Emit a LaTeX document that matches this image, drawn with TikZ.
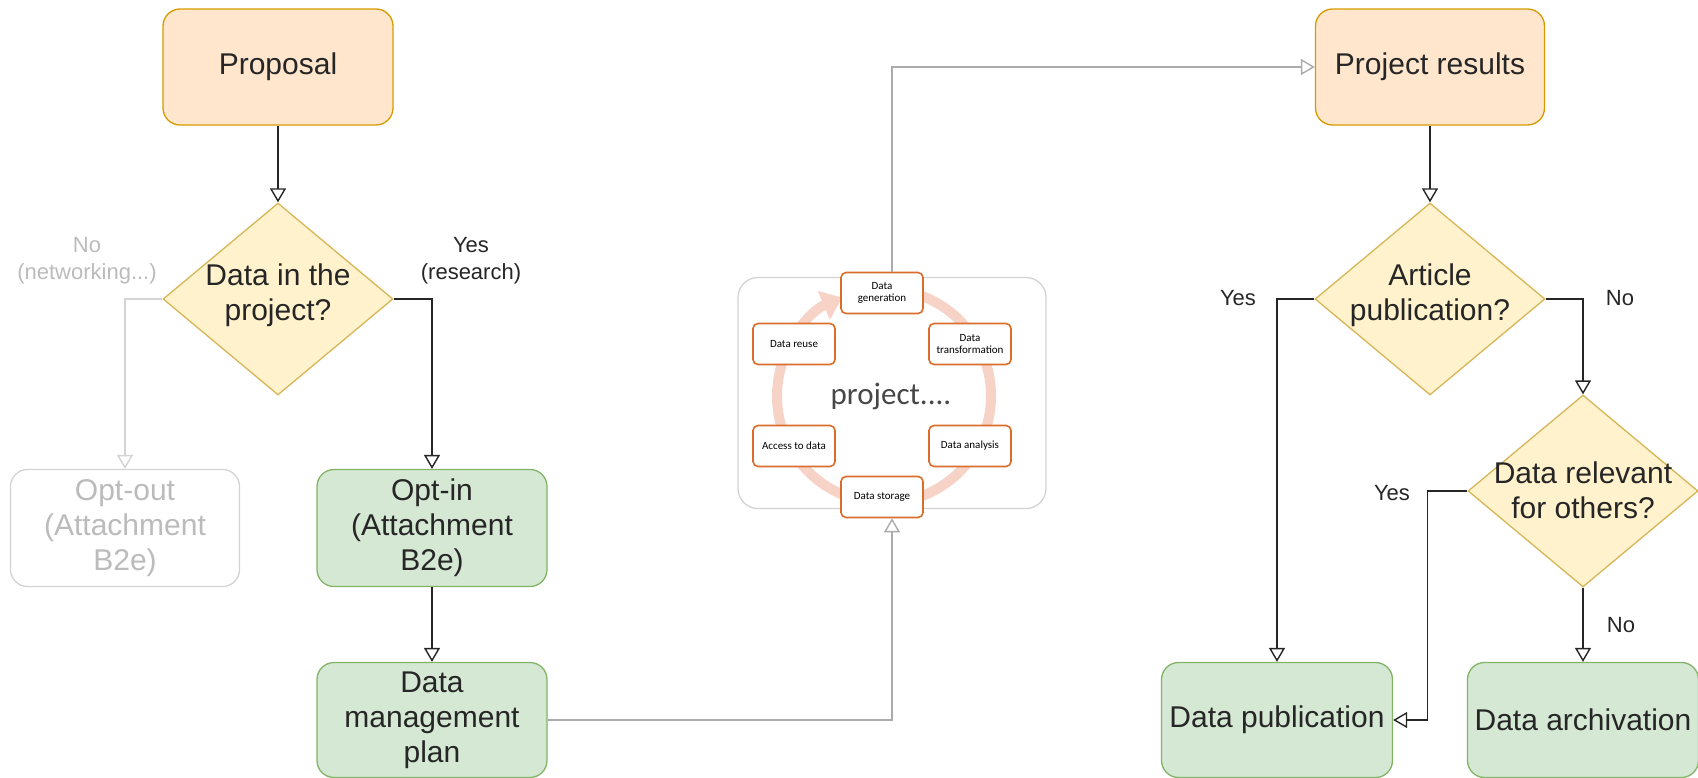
\documentclass[tikz,border=0pt]{standalone}
\usepackage{fontspec}
\setmainfont{Liberation Sans}
\newfontfamily\calib{Carlito}
\usetikzlibrary{arrows.meta,shapes.geometric}

\definecolor{startfill}{HTML}{FFE6CC}
\definecolor{startline}{HTML}{D79B00}
\definecolor{askfill}{HTML}{FFF2CC}
\definecolor{askline}{HTML}{D6B656}
\definecolor{okfill}{HTML}{D5E8D4}
\definecolor{okline}{HTML}{82B366}
\definecolor{offtext}{HTML}{BBBBBB}
\definecolor{offline}{HTML}{D3D3D3}
\definecolor{linkgray}{HTML}{ABABAB}
\definecolor{ink}{HTML}{262626}
\definecolor{stepline}{HTML}{DA6D2B}
\definecolor{ringcol}{HTML}{F7D3C7}

\newcommand{\boxfont}{\fontsize{30}{35}\selectfont}
\newcommand{\tagfont}{\fontsize{22}{27}\selectfont}
\newcommand{\stepfont}{\calib\fontsize{11}{11.5}\selectfont}

\tikzset{
	flowbox/.style={rectangle, rounded corners=17pt, line width=1.3pt, minimum width=230pt, minimum height=116pt, inner sep=0pt, align=center, font=\boxfont, text=ink},
	startbox/.style={flowbox, draw=startline, fill=startfill},
	endbox/.style={flowbox, draw=okline, fill=okfill},
	offbox/.style={flowbox, draw=offline, fill=white, text=offtext},
	ask/.style={diamond, draw=askline, fill=askfill, line width=1.3pt, minimum width=230pt, minimum height=192pt, inner sep=0pt},
	asktext/.style={align=center, font=\boxfont, text=ink},
	stepbox/.style={rectangle, rounded corners=5pt, draw=stepline, fill=white, line width=1.6pt, minimum width=82pt, minimum height=41pt, inner sep=0pt, align=center, font=\stepfont, text=black},
	flow/.style={draw=ink, line width=1.4pt, -{Triangle[open, length=14pt, width=16pt]}},
	faint/.style={flow, draw=linkgray},
	offflow/.style={flow, draw=offline},
	tag/.style={align=center, font=\tagfont, text=ink},
}

\begin{document}
\begin{tikzpicture}[x=1pt, y=-1pt]
	\useasboundingbox (0,0) rectangle (1698,778);

	% left column
	\node[startbox] (prop) at (278,67) {Proposal};
	\node[ask] (q1) at (278,299) {};
	\node[asktext] (q1t) at (278,295) {Data in the\\project?};
	\node[offbox, minimum width=229pt, minimum height=117pt] (optout) at (125,528) {Opt-out\\(Attachment\\B2e)};
	\node[endbox, minimum height=117pt] (optin) at (432,528) {Opt-in\\(Attachment\\B2e)};
	\node[endbox, minimum height=115pt] (dmp) at (432,720) {Data\\management\\plan};
	\node[tag, text=offtext] (tno) at (87,261) {No\\(networking...)};
	\node[tag] (tyes) at (471,261) {Yes\\(research)};

	% project cycle
	\node[rectangle, rounded corners=20pt, draw=offline, fill=white, line width=1.3pt, minimum width=308pt, minimum height=231pt] (cycle) at (892,393) {};
	\coordinate (ringc) at (884,396);
	\draw[ringcol, line width=10pt, -{Triangle[length=20pt, width=30pt]}] (ringc) ++(-80:107) arc[start angle=-80, end angle=247, radius=107];
	\node[font=\calib\fontsize{31}{31}\selectfont, text=ink!85] (ptext) at (891,396) {project....};
	\node[stepbox] (gen) at (882,293) {Data\\generation};
	\node[stepbox] (trans) at (970,344) {Data\\transformation};
	\node[stepbox] (reuse) at (794,344) {Data reuse};
	\node[stepbox] (access) at (794,446) {Access to data};
	\node[stepbox] (anal) at (970,446) {Data analysis};
	\node[stepbox] (store) at (882,497) {Data storage};

	% right column
	\node[startbox, minimum width=229pt] (results) at (1430,67) {Project results};
	\node[ask] (q2) at (1430,299) {};
	\node[asktext] (q2t) at (1430,295) {Article\\publication?};
	\node[ask] (q3) at (1583,491) {};
	\node[asktext] (q3t) at (1583,490) {Data relevant\\for others?};
	\node[endbox, minimum width=231pt, minimum height=115pt] (pub) at (1277,720) {Data publication};
	\node[endbox, minimum width=231pt, minimum height=115pt] (arch) at (1583,720) {Data archivation};
	\node[tag] (y2) at (1238,298) {Yes};
	\node[tag] (n2) at (1620,298) {No};
	\node[tag] (y3) at (1392,493) {Yes};
	\node[tag] (n3) at (1621,625) {No};

	% connectors
	\draw[flow] (prop.south) -- (q1.north);
	\draw[offflow] (q1.west) -| (optout.north);
	\draw[flow] (q1.east) -| (optin.north);
	\draw[flow] (optin.south) -- (dmp.north);
	\draw[faint] (dmp.east) -| (store.south -| cycle.south);
	\draw[faint] (gen.north -| cycle.north) |- (results.west);
	\draw[flow] (results.south) -- (q2.north);
	\draw[flow] (q2.west) -| (pub.north);
	\draw[flow] (q2.east) -| (q3.north);
	\draw[flow] (q3.west) -- ++(-40,0) |- (pub.east);
	\draw[flow] (q3.south) -- (arch.north);
\end{tikzpicture}
\end{document}
